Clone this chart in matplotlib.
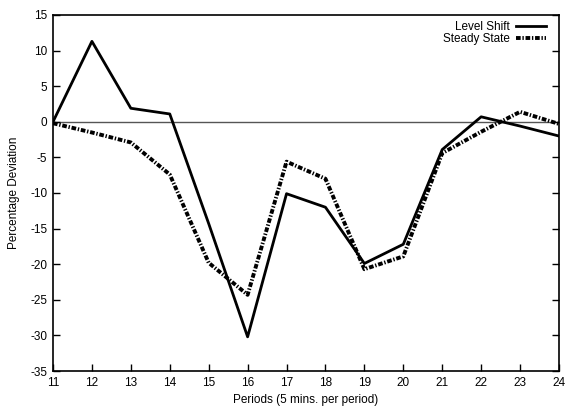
import matplotlib
matplotlib.use("Agg")
import matplotlib.pyplot as plt

plt.rcParams['font.family'] = ['Liberation Sans', 'DejaVu Sans']
plt.rcParams['axes.unicode_minus'] = False

periods = [11, 12, 13, 14, 15, 16, 17, 18, 19, 20, 21, 22, 23, 24]
level_shift = [0.0, 11.3, 1.9, 1.1, -14.3, -30.2, -10.1, -12.0, -19.9, -17.2, -3.9, 0.7, -0.6, -2.0]
steady_state = [-0.2, -1.5, -2.9, -7.4, -19.8, -24.3, -5.6, -8.0, -20.7, -18.9, -4.4, -1.4, 1.4, -0.3]

x_ticks = list(range(11, 25))
y_ticks = list(range(-35, 16, 5))

fig = plt.figure(figsize=(5.66, 4.09), dpi=100)
ax = fig.add_axes([53 / 566, 38 / 409, 506 / 566, 356 / 409])

ax.axhline(0, color='#555555', lw=1.0, zorder=1)
ax.plot(periods, level_shift, color='black', lw=2.0, label='Level Shift', zorder=3)
ax.plot(periods, steady_state, color='black', lw=2.8,
        linestyle=(0, (1.2, 0.45, 0.35, 0.45)), label='Steady State', zorder=2)

ax.set_xlim(11, 24)
ax.set_ylim(-35, 15)
ax.set_xticks(x_ticks)
ax.set_yticks(y_ticks)
ax.tick_params(direction='in', length=5, width=1, labelsize=8.5, right=True, top=False,
               pad=4)
for s in ax.spines.values():
    s.set_linewidth(1.2)

ax.set_xlabel('Periods (5 mins. per period)', fontsize=8.5, labelpad=4)
ax.set_ylabel('Percentage Deviation', fontsize=8.5)
ax.yaxis.set_label_coords(-0.066, 0.5)

leg = ax.legend(loc='upper right', bbox_to_anchor=(0.988, 1.0), frameon=False,
                fontsize=8.5, markerfirst=False, handlelength=2.6,
                handletextpad=0.5, labelspacing=0.0, borderaxespad=0.15)

fig.savefig('out.png', dpi=100)
